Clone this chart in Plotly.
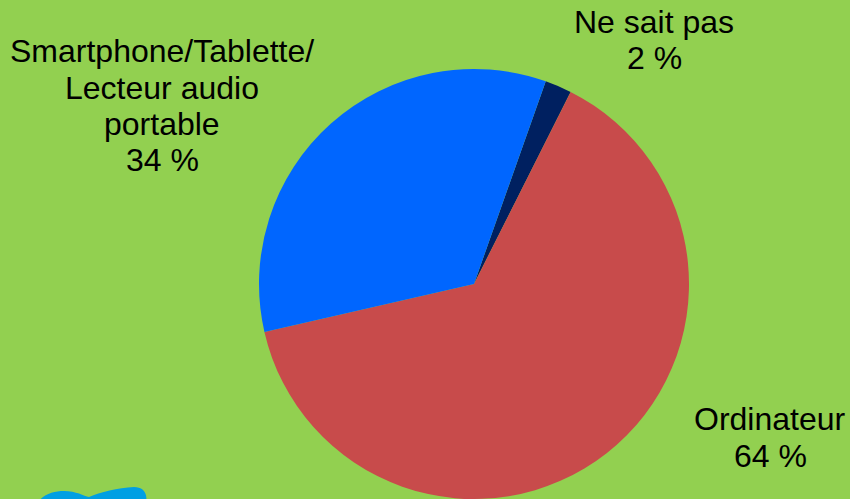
import plotly.graph_objects as go

# Survey answers: device used (share of respondents, %)
categories = ["Ne sait pas", "Ordinateur", "Smartphone/Tablette/Lecteur audio portable"]
values = [2, 64, 34]
colors = ["#002060", "#C84B4B", "#0066FF"]

# Label lines shown next to each slice
label_lines = {
    "Ne sait pas": ["Ne sait pas"],
    "Ordinateur": ["Ordinateur"],
    "Smartphone/Tablette/Lecteur audio portable": ["Smartphone/Tablette/", "Lecteur audio", "portable"],
}

W, H = 850, 499
BG = "#92D050"

fig = go.Figure(
    go.Pie(
        labels=categories,
        values=values,
        marker=dict(colors=colors, line=dict(width=0)),
        sort=False,
        direction="clockwise",
        rotation=19.5,
        textinfo="none",
        hoverinfo="label+percent",
        showlegend=False,
        domain=dict(x=[258 / W, 690 / W], y=[0, 1 - 69 / H]),
    )
)

# Label anchor: (center x px, first-line center y px)
label_pos = {
    "Ne sait pas": (654, 22),
    "Ordinateur": (770, 419),
    "Smartphone/Tablette/Lecteur audio portable": (162, 51),
}
LINE_STEP = 36.5
annotations = []
for cat, val in zip(categories, values):
    cx, cy = label_pos[cat]
    lines = label_lines[cat] + [f"{val} %"]
    for i, line in enumerate(lines):
        y_px = cy + i * LINE_STEP
        annotations.append(
            dict(
                text=line,
                x=cx / W,
                y=1 - y_px / H,
                xref="paper",
                yref="paper",
                xanchor="center",
                yanchor="middle",
                showarrow=False,
                font=dict(family="Liberation Sans, Arial, sans-serif", size=32, color="#000000"),
            )
        )

# Partial logo at the lower left corner
def px(x, y):
    return f"{x / W:.4f},{1 - y / H:.4f}"

logo_path = (
    f"M {px(38, 502)} "
    f"C {px(44, 494)} {px(54, 491)} {px(64, 491)} "
    f"C {px(76, 491)} {px(84, 496)} {px(89, 497)} "
    f"C {px(100, 492)} {px(118, 488)} {px(134, 487)} "
    f"C {px(142, 487)} {px(148, 492)} {px(146, 502)} Z"
)

fig.update_layout(
    width=W,
    height=H,
    margin=dict(l=0, r=0, t=0, b=0),
    paper_bgcolor=BG,
    plot_bgcolor=BG,
    annotations=annotations,
    shapes=[
        dict(
            type="path",
            path=logo_path,
            xref="paper",
            yref="paper",
            fillcolor="#009FE3",
            line=dict(width=0),
            layer="above",
        )
    ],
)

fig.write_html("out.html")
